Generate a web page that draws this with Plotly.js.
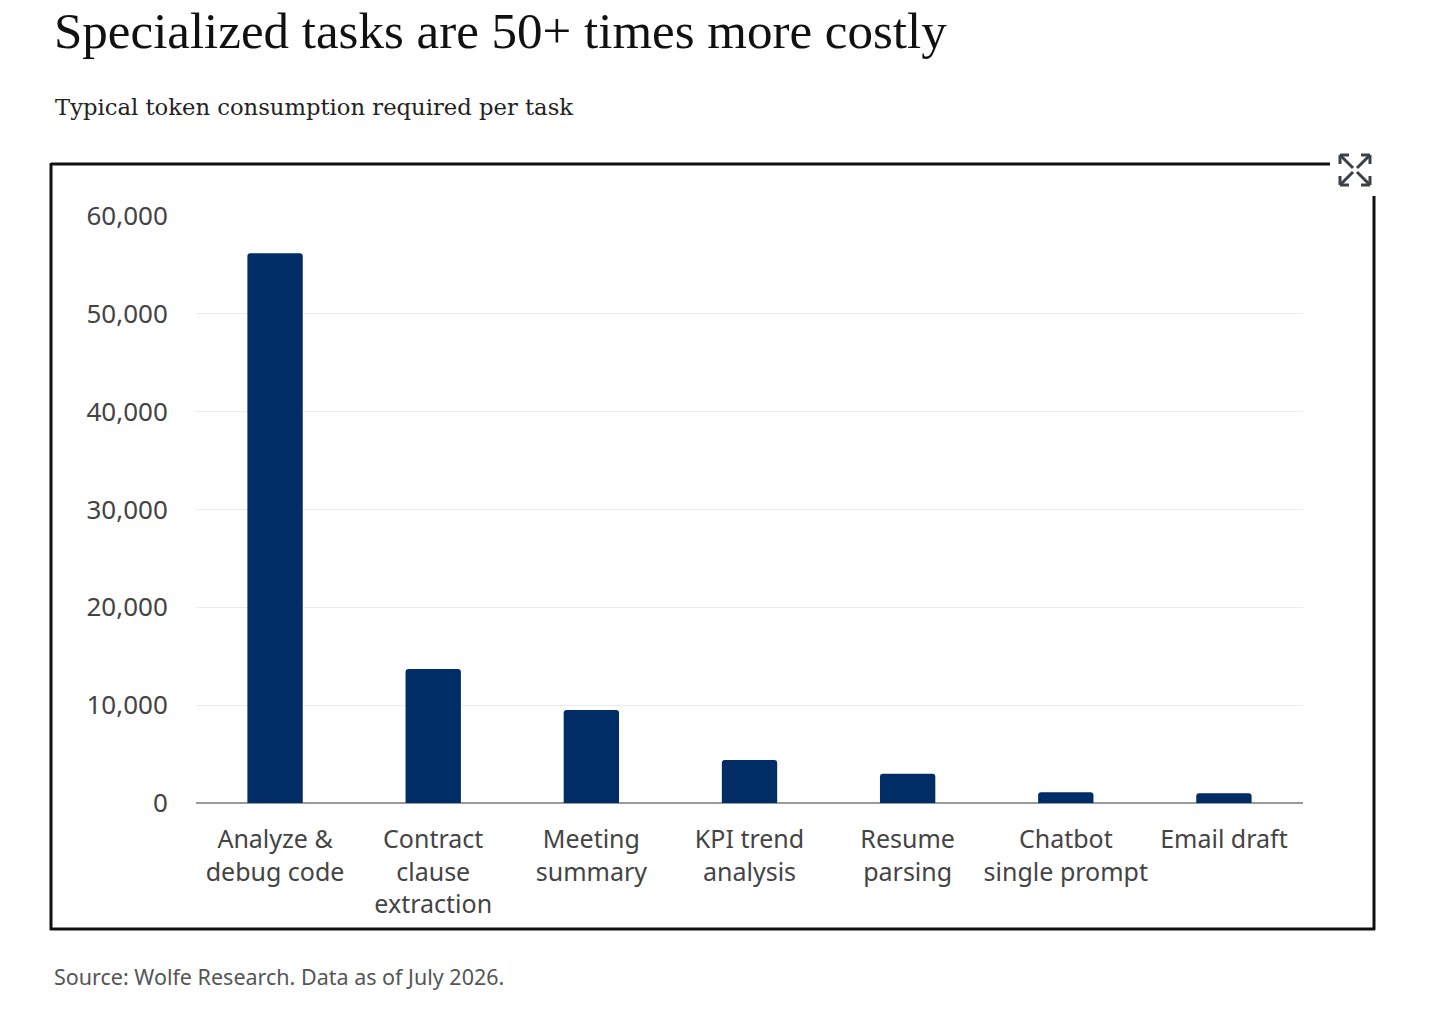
<!DOCTYPE html>
<html><head><meta charset="utf-8">
<script src="https://cdn.plot.ly/plotly-3.0.1.min.js"></script>
<style>html,body{margin:0;padding:0;background:#fff;}#chart{width:1440px;height:1017px;}</style>
</head><body><div id="chart"></div>
<script>
const categories = ["Analyze &<br>debug code","Contract<br>clause<br>extraction","Meeting<br>summary","KPI trend<br>analysis","Resume<br>parsing","Chatbot<br>single prompt","Email draft"];
const tokens = [56200, 13700, 9500, 4400, 3000, 1100, 1000];
const yTicks = [0, 10000, 20000, 30000, 40000, 50000, 60000];
const yTickLabels = ["0","10,000","20,000","30,000","40,000","50,000","60,000"];
const titleText = "Specialized tasks are 50+ times more costly";
const subtitleText = "Typical token consumption required per task";
const sourceText = "Source: Wolfe Research. Data as of July 2026.";

const W = 1440, H = 1017;
const L = 196, R = 1303, T = 216, B = 803;
const px = x => (x - L) / (R - L);
const py = y => (B - y) / (B - T);
const line = (x0,y0,x1,y1,w,c) => ({type:'line',xref:'paper',yref:'paper',x0:px(x0),y0:py(y0),x1:px(x1),y1:py(y1),line:{color:c,width:w}});

const shapes = [
  line(51,164,1330,164,3,'#111'),
  line(51,163,51,930,3,'#111'),
  line(50,929,1375,929,3,'#111'),
  line(1374,196,1374,930,3,'#111'),
];
// expand icon
const ic = '#3a4047', iw = 3;
function arrow(cx, cy, dx, dy){
  const s = [];
  s.push(line(cx - dx*13, cy - dy*13, cx, cy, iw, ic));
  s.push(line(cx, cy, cx - dx*9, cy, iw, ic));
  s.push(line(cx, cy, cx, cy - dy*9, iw, ic));
  return s;
}
shapes.push(...arrow(1340,155,-1,-1), ...arrow(1370,155,1,-1), ...arrow(1340,185,-1,1), ...arrow(1370,185,1,1));

const annotations = [
  {xref:'paper',yref:'paper',x:px(52),y:py(31),xanchor:'left',yanchor:'middle',showarrow:false,text:titleText,
   font:{family:'"Liberation Serif", "Times New Roman", serif',size:51,color:'#111'}},
  {xref:'paper',yref:'paper',x:px(53),y:py(107),xanchor:'left',yanchor:'middle',showarrow:false,text:subtitleText,
   font:{family:'"DejaVu Serif", serif',size:22.7,color:'#222'}},
  {xref:'paper',yref:'paper',x:px(52),y:py(976),xanchor:'left',yanchor:'middle',showarrow:false,text:sourceText,
   font:{family:'"Noto Sans", sans-serif',size:21.5,color:'#555'}},
];

const trace = {
  type:'bar', x:categories, y:tokens,
  marker:{color:'#012d66', cornerradius:3},
  hoverinfo:'x+y'
};

const layout = {
  width:W, height:H,
  margin:{l:L, r:W-R, t:T, b:H-B, pad:0},
  paper_bgcolor:'#fff', plot_bgcolor:'#fff',
  bargap:0.65,
  showlegend:false,
  font:{family:'"Noto Sans", sans-serif', color:'#444'},
  xaxis:{type:'category', tickfont:{size:25,color:'#444'}, showgrid:false, zeroline:false,
         showline:false, ticks:'outside', ticklen:14, tickcolor:'rgba(0,0,0,0)', fixedrange:true},
  yaxis:{range:[0,60000], tickvals:yTicks, ticktext:yTickLabels, tickfont:{size:26,color:'#444'},
         showgrid:true, gridcolor:'#ececec', gridwidth:1, zeroline:true, zerolinecolor:'#9a9a9a', zerolinewidth:1.5,
         ticks:'outside', ticklen:22, tickcolor:'rgba(0,0,0,0)', showline:false, fixedrange:true},
  shapes, annotations
};
Plotly.newPlot('chart',[trace],layout,{displayModeBar:false,staticPlot:true});
</script></body></html>
